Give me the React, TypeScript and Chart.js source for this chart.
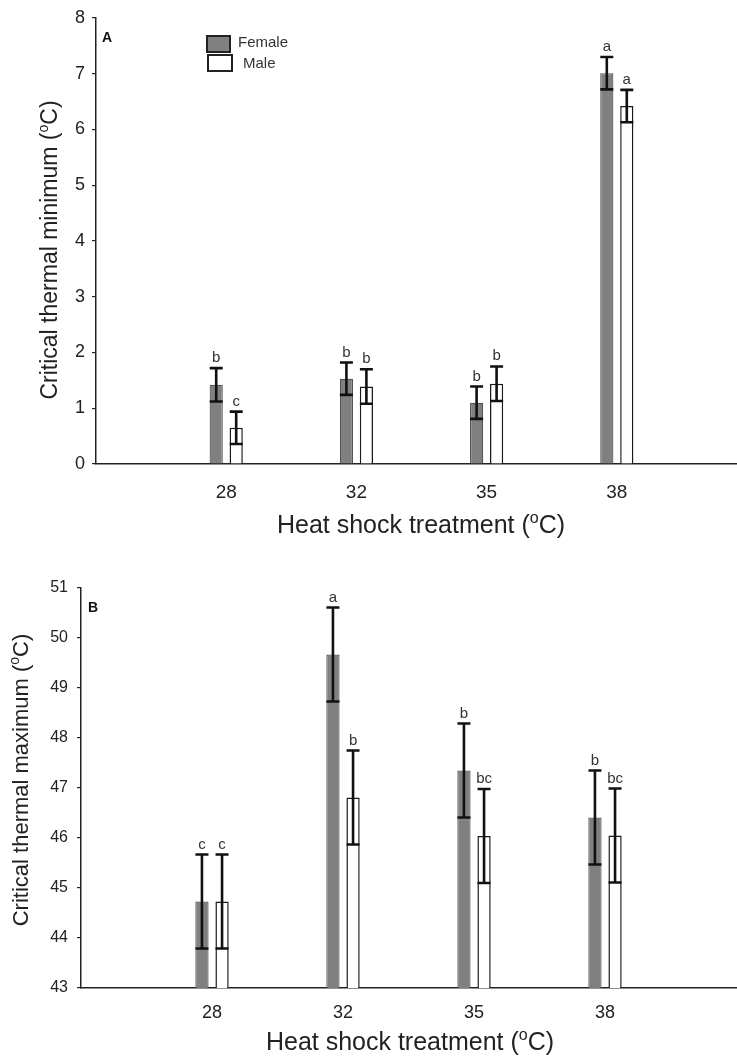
import React, { useEffect, useRef } from 'react';
import { Chart, registerables } from 'chart.js';

Chart.register(...registerables);

const FONT = '"Liberation Sans", Arial, Helvetica, sans-serif';

// ---------- data ----------
const categories = ['28', '32', '35', '38'];
const seriesNames = ['Female', 'Male'];

// Panel A: critical thermal minimum
const ctMinFemale = [1.42, 1.53, 1.10, 7.01];
const ctMinFemaleSE = [0.30, 0.29, 0.29, 0.29];
const ctMinMale = [0.65, 1.39, 1.44, 6.42];
const ctMinMaleSE = [0.29, 0.31, 0.31, 0.29];
const ctMinFemaleLetters = ['b', 'b', 'b', 'a'];
const ctMinMaleLetters = ['c', 'b', 'b', 'a'];

// Panel B: critical thermal maximum
const ctMaxFemale = [44.73, 49.67, 47.35, 46.41];
const ctMaxFemaleSE = [0.94, 0.94, 0.94, 0.94];
const ctMaxMale = [44.73, 46.81, 46.04, 46.05];
const ctMaxMaleSE = [0.94, 0.94, 0.94, 0.94];
const ctMaxFemaleLetters = ['c', 'a', 'b', 'b'];
const ctMaxMaleLetters = ['c', 'b', 'bc', 'bc'];

const xTitleParts = ['Heat shock treatment (', 'o', 'C)'];
const yTitleAParts = ['Critical thermal minimum (', 'o', 'C)'];
const yTitleBParts = ['Critical thermal maximum (', 'o', 'C)'];

const FEMALE_FILL = '#808080';
const FEMALE_BORDER = '#555555';
const MALE_FILL = '#ffffff';
const MALE_BORDER = '#1a1a1a';
const INK = '#222222';

function drawSupText(
  ctx: CanvasRenderingContext2D,
  parts: string[],
  cx: number,
  cy: number,
  size: number,
  rotate: boolean
) {
  ctx.save();
  const big = `${size}px ${FONT}`;
  const small = `${Math.round(size * 0.62)}px ${FONT}`;
  ctx.font = big;
  const w1 = ctx.measureText(parts[0]).width;
  const w3 = ctx.measureText(parts[2]).width;
  ctx.font = small;
  const w2 = ctx.measureText(parts[1]).width;
  const total = w1 + w2 + w3;
  ctx.translate(cx, cy);
  if (rotate) ctx.rotate(-Math.PI / 2);
  ctx.fillStyle = INK;
  ctx.textAlign = 'left';
  ctx.textBaseline = 'alphabetic';
  let x = -total / 2;
  ctx.font = big;
  ctx.fillText(parts[0], x, 0);
  x += w1;
  ctx.font = small;
  ctx.fillText(parts[1], x, -size * 0.4);
  x += w2;
  ctx.font = big;
  ctx.fillText(parts[2], x, 0);
  ctx.restore();
}

type Series = { values: number[]; se: number[]; letters: string[] };

type PanelCfg = {
  series: Series[];
  yMin: number;
  yMax: number;
  width: number;
  height: number;
  padTop: number;
  padRight: number;
  yWidth: number;
  xHeight: number;
  yTickFont: number;
  yTickPad: number;
  xTickFont: number;
  xTickPad: number;
  panelLetter: string;
  panelLetterPos: [number, number];
  yTitle: string[];
  yTitleSize: number;
  yTitleBaselineX: number;
  yTitleCenterOffset: number;
  xTitleSize: number;
  xTitleBaseline: number;
  xTitleCenterX: number;
  legend: boolean;
};

function makeChart(canvas: HTMLCanvasElement, cfg: PanelCfg) {
  const labels = ['', ...categories, ''];
  const pad = (a: number[]) => [null, ...a, null];

  const overlay = {
    id: 'overlay',
    afterDatasetsDraw(chart: any) {
      const ctx: CanvasRenderingContext2D = chart.ctx;
      const y = chart.scales.y;
      cfg.series.forEach((s, di) => {
        const meta = chart.getDatasetMeta(di);
        s.values.forEach((v, i) => {
          const el = meta.data[i + 1];
          if (!el) return;
          const x = el.x;
          const top = y.getPixelForValue(v + s.se[i]);
          const bot = y.getPixelForValue(v - s.se[i]);
          ctx.save();
          ctx.strokeStyle = '#111';
          ctx.lineWidth = 2.6;
          ctx.beginPath();
          ctx.moveTo(x, top);
          ctx.lineTo(x, bot);
          ctx.moveTo(x - 6.5, top);
          ctx.lineTo(x + 6.5, top);
          ctx.moveTo(x - 6.5, bot);
          ctx.lineTo(x + 6.5, bot);
          ctx.stroke();
          ctx.fillStyle = '#333';
          ctx.font = `15px ${FONT}`;
          ctx.textAlign = 'center';
          ctx.textBaseline = 'alphabetic';
          ctx.fillText(s.letters[i], x, top - 6);
          ctx.restore();
        });
      });
    },
    afterDraw(chart: any) {
      const ctx: CanvasRenderingContext2D = chart.ctx;
      const area = chart.chartArea;
      // panel letter
      ctx.save();
      ctx.fillStyle = '#111';
      ctx.font = `bold 14px ${FONT}`;
      ctx.textAlign = 'left';
      ctx.textBaseline = 'alphabetic';
      ctx.fillText(cfg.panelLetter, cfg.panelLetterPos[0], cfg.panelLetterPos[1]);
      ctx.restore();
      // legend
      if (cfg.legend) {
        ctx.save();
        ctx.lineWidth = 2;
        ctx.fillStyle = FEMALE_FILL;
        ctx.fillRect(207, 36, 23, 16);
        ctx.strokeStyle = '#222';
        ctx.strokeRect(207, 36, 23, 16);
        ctx.fillStyle = MALE_FILL;
        ctx.fillRect(208, 55, 24, 16);
        ctx.strokeRect(208, 55, 24, 16);
        ctx.fillStyle = '#333';
        ctx.font = `15px ${FONT}`;
        ctx.textAlign = 'left';
        ctx.textBaseline = 'middle';
        ctx.fillText(seriesNames[0], 238, 43);
        ctx.fillText(seriesNames[1], 243, 64);
        ctx.restore();
      }
      // axis titles
      drawSupText(
        ctx,
        cfg.yTitle,
        cfg.yTitleBaselineX,
        (area.top + area.bottom) / 2 + cfg.yTitleCenterOffset,
        cfg.yTitleSize,
        true
      );
      drawSupText(ctx, xTitleParts, cfg.xTitleCenterX, cfg.xTitleBaseline, cfg.xTitleSize, false);
    },
  };

  return new Chart(canvas, {
    type: 'bar',
    data: {
      labels,
      datasets: [
        {
          label: seriesNames[0],
          data: pad(cfg.series[0].values) as any,
          backgroundColor: FEMALE_FILL,
          borderColor: FEMALE_BORDER,
          borderWidth: 1.2,
          categoryPercentage: 0.307,
          barPercentage: 0.66,
        },
        {
          label: seriesNames[1],
          data: pad(cfg.series[1].values) as any,
          backgroundColor: MALE_FILL,
          borderColor: MALE_BORDER,
          borderWidth: 1.5,
          categoryPercentage: 0.307,
          barPercentage: 0.66,
        },
      ],
    },
    options: {
      responsive: false,
      animation: false,
      layout: { padding: { top: cfg.padTop, right: cfg.padRight, left: 0, bottom: 0 } },
      plugins: { legend: { display: false }, tooltip: { enabled: false } },
      scales: {
        x: {
          type: 'category',
          offset: false,
          grid: { display: false },
          border: { display: true, color: INK, width: 1.5 },
          ticks: {
            autoSkip: false,
            maxRotation: 0,
            padding: cfg.xTickPad,
            color: INK,
            font: { family: FONT, size: cfg.xTickFont },
          },
          afterFit: (s: any) => {
            s.height = cfg.xHeight;
          },
        },
        y: {
          min: cfg.yMin,
          max: cfg.yMax,
          ticks: {
            stepSize: 1,
            padding: cfg.yTickPad,
            color: INK,
            font: { family: FONT, size: cfg.yTickFont },
          },
          grid: {
            display: true,
            drawOnChartArea: false,
            drawTicks: true,
            tickLength: 4,
            color: INK,
            lineWidth: 1.2,
          },
          border: { display: true, color: INK, width: 1.5 },
          afterFit: (s: any) => {
            s.width = cfg.yWidth;
          },
        },
      },
    },
    plugins: [overlay],
  } as any);
}

const panelA: PanelCfg = {
  series: [
    { values: ctMinFemale, se: ctMinFemaleSE, letters: ctMinFemaleLetters },
    { values: ctMinMale, se: ctMinMaleSE, letters: ctMinMaleLetters },
  ],
  yMin: 0,
  yMax: 8,
  width: 760,
  height: 558,
  padTop: 18,
  padRight: 13,
  yWidth: 96,
  xHeight: 94,
  yTickFont: 18,
  yTickPad: 7,
  xTickFont: 19,
  xTickPad: 9,
  panelLetter: 'A',
  panelLetterPos: [102, 42],
  yTitle: yTitleAParts,
  yTitleSize: 23,
  yTitleBaselineX: 57,
  yTitleCenterOffset: 9,
  xTitleSize: 25,
  xTitleBaseline: 533,
  xTitleCenterX: 421,
  legend: true,
};

const panelB: PanelCfg = {
  series: [
    { values: ctMaxFemale, se: ctMaxFemaleSE, letters: ctMaxFemaleLetters },
    { values: ctMaxMale, se: ctMaxMaleSE, letters: ctMaxMaleLetters },
  ],
  yMin: 43,
  yMax: 51,
  width: 760,
  height: 499,
  padTop: 30,
  padRight: 24,
  yWidth: 81,
  xHeight: 69,
  yTickFont: 16,
  yTickPad: 9,
  xTickFont: 18,
  xTickPad: 6,
  panelLetter: 'B',
  panelLetterPos: [88, 54],
  yTitle: yTitleBParts,
  yTitleSize: 22,
  yTitleBaselineX: 28,
  yTitleCenterOffset: -8,
  xTitleSize: 25,
  xTitleBaseline: 492,
  xTitleCenterX: 410,
  legend: false,
};

function Panel({ cfg, top }: { cfg: PanelCfg; top: number }) {
  const ref = useRef<HTMLCanvasElement | null>(null);
  useEffect(() => {
    if (!ref.current) return;
    const chart = makeChart(ref.current, cfg);
    return () => chart.destroy();
  }, [cfg]);
  return (
    <canvas
      ref={ref}
      width={cfg.width}
      height={cfg.height}
      style={{
        position: 'absolute',
        left: 0,
        top,
        width: cfg.width,
        height: cfg.height,
        display: 'block',
      }}
    />
  );
}

export default function App() {
  return (
    <div
      style={{
        position: 'fixed',
        left: 0,
        top: 0,
        width: 737,
        height: 1057,
        overflow: 'hidden',
        background: '#ffffff',
      }}
    >
      <Panel cfg={panelA} top={0} />
      <Panel cfg={panelB} top={558} />
    </div>
  );
}
